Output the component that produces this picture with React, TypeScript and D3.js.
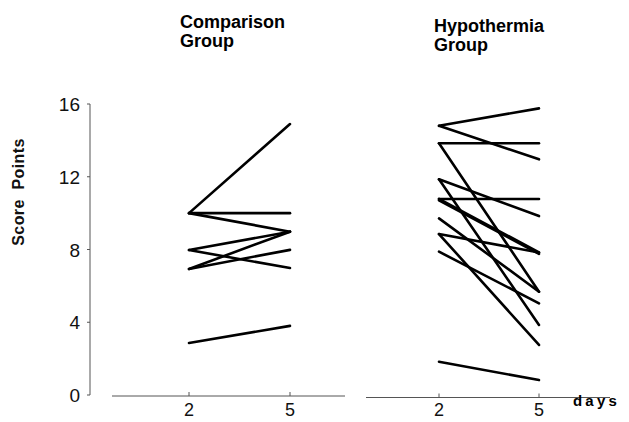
import React, { useRef, useEffect } from 'react';
import * as d3 from 'd3';

// values (score points on day 2 and day 5, one pair per patient)
const days = [2, 5];
const yTicks = [0, 4, 8, 12, 16];
const comparisonDay2 = [10, 10, 10, 7.97, 7.97, 6.93, 6.93, 2.86];
const comparisonDay5 = [14.9, 10, 8.98, 8.98, 6.98, 8.98, 7.98, 3.8];
const hypothermiaDay2 = [14.8, 14.8, 13.84, 13.84, 11.86, 11.86, 10.78, 10.78, 10.7, 9.71, 8.85, 8.85, 7.88, 1.83];
const hypothermiaDay5 = [15.76, 12.96, 13.84, 5.68, 9.84, 3.85, 10.78, 7.84, 7.76, 5.68, 7.84, 2.75, 5.04, 0.82];

const W = 629;
const H = 422;
const FONT = '"Liberation Sans", Arial, Helvetica, sans-serif';

const App = () => {
    const svgRef = useRef<SVGSVGElement | null>(null);

    useEffect(() => {
        if (!svgRef.current) return;
        const svg = d3.select(svgRef.current);
        svg.selectAll('*').remove();

        const y = d3.scaleLinear().domain([0, 16]).range([395, 104]);
        const axisX = 90;

        // --- y axis ---
        svg.append('line')
            .attr('x1', axisX).attr('x2', axisX)
            .attr('y1', y(16)).attr('y2', y(0))
            .attr('stroke', '#555').attr('stroke-width', 1);

        yTicks.forEach(t => {
            svg.append('line')
                .attr('x1', axisX - 3).attr('x2', axisX)
                .attr('y1', y(t)).attr('y2', y(t))
                .attr('stroke', '#555').attr('stroke-width', 1);
            svg.append('text')
                .attr('x', 80)
                .attr('y', y(t) + 7)
                .attr('text-anchor', 'end')
                .attr('font-family', FONT)
                .attr('font-size', '19px')
                .attr('fill', '#111')
                .text(t);
        });

        svg.append('text')
            .attr('transform', 'translate(24,192) rotate(-90)')
            .attr('text-anchor', 'middle')
            .attr('font-family', FONT)
            .attr('font-size', '16px')
            .attr('font-weight', 'bold')
            .attr('letter-spacing', '0.4px')
            .attr('fill', '#111')
            .style('white-space', 'pre')
            .text('Score  Points');

        // --- the two panels ---
        const panels = [
            { title: ['Comparison', 'Group'], titleX: 180, titleY: 28, range: [189, 290], axis: [112, 345], axisY: 396, d2: comparisonDay2, d5: comparisonDay5 },
            { title: ['Hypothermia', 'Group'], titleX: 434, titleY: 32, range: [439, 539], axis: [366, 610], axisY: 397.5, d2: hypothermiaDay2, d5: hypothermiaDay5 },
        ];

        panels.forEach(p => {
            const x = d3.scaleLinear().domain([2, 5]).range(p.range);
            const g = svg.append('g');

            g.append('line')
                .attr('x1', p.axis[0]).attr('x2', p.axis[1])
                .attr('y1', p.axisY).attr('y2', p.axisY)
                .attr('stroke', '#555').attr('stroke-width', 1);

            days.forEach(d => {
                g.append('line')
                    .attr('x1', x(d)).attr('x2', x(d))
                    .attr('y1', p.axisY - 4).attr('y2', p.axisY)
                    .attr('stroke', '#555').attr('stroke-width', 1);
                g.append('text')
                    .attr('x', x(d))
                    .attr('y', 416)
                    .attr('text-anchor', 'middle')
                    .attr('font-family', FONT)
                    .attr('font-size', '18px')
                    .attr('fill', '#111')
                    .text(d);
            });

            const line = d3.line<[number, number]>()
                .x(v => x(v[0]))
                .y(v => y(v[1]));

            p.d2.forEach((v, i) => {
                g.append('path')
                    .datum([[2, v], [5, p.d5[i]]] as [number, number][])
                    .attr('fill', 'none')
                    .attr('stroke', '#000')
                    .attr('stroke-width', 2.6)
                    .attr('stroke-linecap', 'round')
                    .attr('d', line);
            });

            p.title.forEach((t, i) => {
                g.append('text')
                    .attr('x', p.titleX)
                    .attr('y', p.titleY + i * 19)
                    .attr('font-family', FONT)
                    .attr('font-size', '18px')
                    .attr('font-weight', 'bold')
                    .attr('fill', '#000')
                    .text(t);
            });
        });

        svg.append('text')
            .attr('x', 573)
            .attr('y', 406)
            .attr('font-family', FONT)
            .attr('font-size', '15px')
            .attr('font-weight', 'bold')
            .attr('letter-spacing', '3.2px')
            .attr('fill', '#000')
            .text('days');
    }, []);

    return (
        <div style={{ position: 'fixed', left: 0, top: 0, width: W, height: H, background: '#fff' }}>
            <svg ref={svgRef} width={W} height={H} style={{ display: 'block' }} />
        </div>
    );
};

export default App;
